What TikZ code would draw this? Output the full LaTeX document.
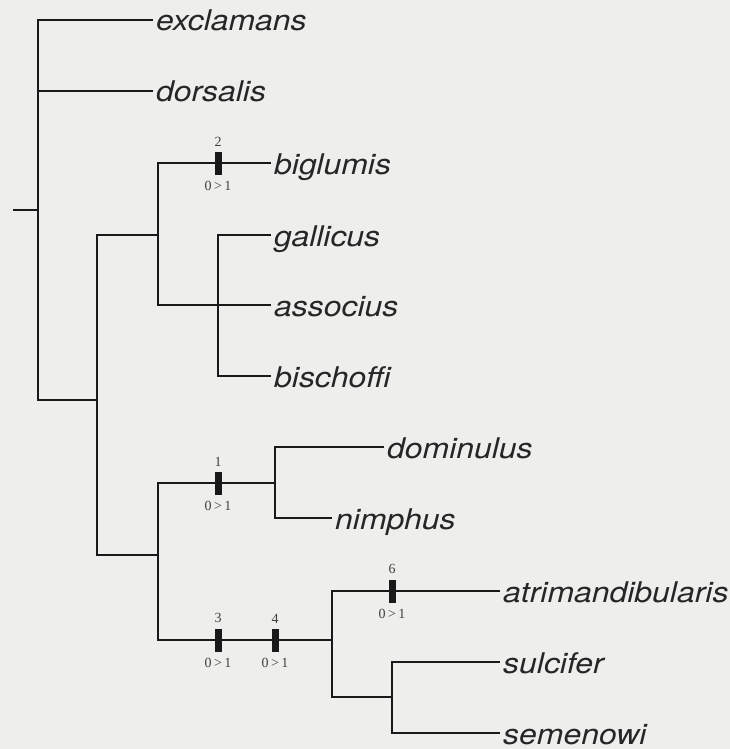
\documentclass[tikz,border=0pt]{standalone}
\usepackage{fontspec}
\newfontfamily\taxfont{TeX Gyre Heros}[FakeStretch=1.12]
\newfontfamily\lblfont{Liberation Serif}
\definecolor{bgcol}{HTML}{EEEEEC}
\begin{document}
\begin{tikzpicture}[x=1pt,y=-1pt,
  branch/.style={line width=2.7pt, draw=black!90},
  leaf/.style={anchor=west, inner xsep=3pt, inner ysep=0pt, text height=26pt, text depth=4pt,
    font=\taxfont\itshape\fontsize{28.5}{30}\selectfont, text=black!85},
  charbar/.style={fill=black!90, draw=none, minimum width=7pt, minimum height=23pt, inner sep=0pt},
  num/.style={font=\lblfont\fontsize{14}{14}\selectfont, text=black!75, inner sep=1pt},
  numabove/.style={label={[num, label distance=4pt]above:#1}},
  numbelow/.style={label={[num, label distance=5pt]below:#1}}
]
\fill[bgcol] (0,0) rectangle (730,749);
\useasboundingbox (0,0) rectangle (730,749);

% internal nodes
\coordinate (stub) at (13,210);
\coordinate (n1) at (38,210);
\coordinate (n2) at (97,400);
\coordinate (n3) at (158,235);
\coordinate (n4) at (218,305);
\coordinate (n5) at (158,555);
\coordinate (n6) at (275,483);
\coordinate (n7) at (332,640);
\coordinate (n9) at (392,697);

% leaves
\node[leaf] (exclamans) at (153,20) {exclamans};
\node[leaf] (dorsalis) at (153,91) {dorsalis};
\node[leaf] (biglumis) at (271,163) {biglumis};
\node[leaf] (gallicus) at (271,235) {gallicus};
\node[leaf] (associus) at (271,305) {associus};
\node[leaf] (bischoffi) at (271,376) {bischoffi};
\node[leaf] (dominulus) at (384,447) {dominulus};
\node[leaf] (nimphus) at (332,518) {nimphus};
\node[leaf] (atrimandibularis) at (500,591) {atrimandibularis};
\node[leaf] (sulcifer) at (500,662) {sulcifer};
\node[leaf] (semenowi) at (500,733) {semenowi};

% branches
\draw[branch] (stub) -- (n1);
\draw[branch] (exclamans.west) -| (n1);
\draw[branch] (dorsalis.west) -| (n1);
\draw[branch] (n2) -| (n1);
\draw[branch] (n3) -| (n2);
\draw[branch] (n5) -| (n2);
\draw[branch] (biglumis.west) -| (n3);
\draw[branch] (n4) -| (n3);
\draw[branch] (associus.west) -- (n4);
\draw[branch] (gallicus.west) -| (n4);
\draw[branch] (bischoffi.west) -| (n4);
\draw[branch] (n6) -| (n5);
\draw[branch] (n7) -| (n5);
\draw[branch] (dominulus.west) -| (n6);
\draw[branch] (nimphus.west) -| (n6);
\draw[branch] (atrimandibularis.west) -| (n7);
\draw[branch] (n9) -| (n7);
\draw[branch] (sulcifer.west) -| (n9);
\draw[branch] (semenowi.west) -| (n9);

% character state changes
\node[charbar, numabove=2, numbelow={0\,>\,1}] (c2) at (218,163) {};
\node[charbar, numabove=1, numbelow={0\,>\,1}] (c1) at (218,483) {};
\node[charbar, numabove=3, numbelow={0\,>\,1}] (c3) at (218,640) {};
\node[charbar, numabove=4, numbelow={0\,>\,1}] (c4) at (275,640) {};
\node[charbar, numabove=6, numbelow={0\,>\,1}] (c6) at (392,591) {};
\end{tikzpicture}
\end{document}
